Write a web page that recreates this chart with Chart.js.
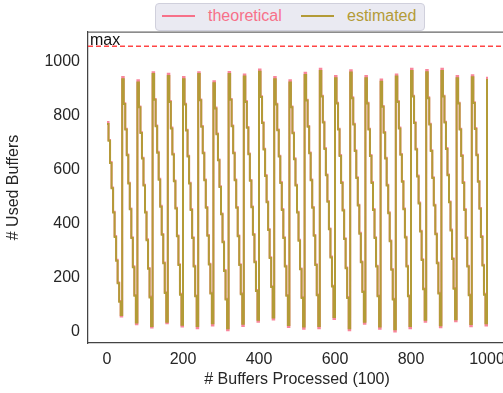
<!DOCTYPE html>
<html>
<head>
<meta charset="utf-8">
<script src="https://cdn.jsdelivr.net/npm/chart.js@4.4.1/dist/chart.umd.min.js"></script>
<style>
  html, body { margin: 0; padding: 0; background: #fff; overflow: hidden; }
  #wrap { position: relative; width: 503px; height: 393px; overflow: hidden; }
  canvas { position: absolute; left: 0; top: 0; }
  #legend {
    position: absolute; left: 155px; top: 3px; width: 268px; height: 26px;
    background: #eaeaf2; border: 1px solid #d0d0dc; border-radius: 4px;
    font-family: "Liberation Sans", Arial, sans-serif; font-size: 16px;
  }
  #legend .ln { position: absolute; top: 11px; height: 2px; width: 33px; }
  #legend .tx { position: absolute; top: 3px; line-height: 18px; }
</style>
</head>
<body>
<div id="wrap">
  <canvas id="chart" width="520" height="393"></canvas>
  <div id="legend">
    <div class="ln" style="left:6px;background:#f77189"></div>
    <div class="tx" style="left:52px;color:#f77189">theoretical</div>
    <div class="ln" style="left:145px;background:#b39b37"></div>
    <div class="tx" style="left:191px;color:#b39b37">estimated</div>
  </div>
</div>
<script>
// one sample every 4 units on x (# buffers processed, in hundreds)
const xStep = 4
const maxBuffers = 1056

const estimated = [
  768, 706, 624, 530, 440, 350, 262, 178, 110, 61,
  934, 842, 748, 652, 548, 452, 346, 238, 132, 33,
  922, 830, 735, 640, 540, 440, 338, 232, 126, 20,
  953, 858, 760, 662, 562, 462, 358, 252, 142, 36,
  946, 850, 752, 655, 556, 455, 352, 246, 136, 25,
  934, 840, 744, 648, 548, 450, 346, 240, 130, 20,
  953, 856, 758, 660, 560, 458, 354, 248, 140, 30,
  919, 826, 730, 634, 535, 434, 330, 224, 118, 12,
  953, 858, 760, 660, 560, 458, 352, 246, 138, 28,
  944, 850, 754, 656, 558, 460, 358, 256, 150, 43,
  962, 868, 772, 674, 576, 478, 376, 272, 164, 51,
  934, 840, 745, 648, 550, 450, 346, 240, 132, 24,
  922, 830, 734, 638, 540, 440, 336, 230, 124, 18,
  950, 855, 758, 660, 560, 458, 354, 246, 134, 20,
  965, 870, 774, 676, 578, 480, 378, 274, 166, 53,
  938, 844, 748, 650, 550, 448, 342, 234, 124, 12,
  959, 864, 766, 668, 568, 466, 362, 256, 146, 36,
  938, 844, 748, 650, 550, 450, 346, 240, 130, 18,
  925, 832, 736, 640, 540, 438, 334, 228, 118, 8,
  944, 850, 752, 654, 554, 452, 348, 240, 130, 20,
  965, 870, 772, 674, 574, 474, 370, 264, 156, 43,
  960, 864, 766, 668, 568, 466, 360, 252, 140, 23,
  965, 870, 774, 676, 578, 478, 374, 268, 158, 45,
  938, 844, 748, 650, 550, 450, 346, 240, 134, 27,
  941, 846, 750, 652, 554, 454, 350, 244, 136, 30,
  935
]

const theoretical = [
  776, 709, 627, 533, 443, 353, 265, 181, 113, 55,
  942, 845, 751, 655, 551, 455, 349, 241, 135, 26,
  930, 833, 738, 643, 543, 443, 341, 235, 129, 14,
  960, 861, 763, 665, 565, 465, 361, 255, 145, 30,
  954, 853, 755, 658, 559, 458, 355, 249, 139, 18,
  942, 843, 747, 651, 551, 453, 349, 243, 133, 12,
  960, 859, 761, 663, 563, 461, 357, 251, 143, 22,
  927, 829, 733, 637, 538, 437, 333, 227, 121, 4,
  961, 861, 763, 663, 563, 461, 355, 249, 141, 20,
  952, 853, 757, 659, 561, 463, 361, 259, 153, 36,
  970, 871, 775, 677, 579, 481, 379, 275, 167, 44,
  942, 843, 748, 651, 553, 453, 349, 243, 135, 16,
  930, 833, 737, 641, 543, 443, 339, 233, 127, 10,
  958, 858, 761, 663, 563, 461, 357, 249, 137, 12,
  973, 873, 777, 679, 581, 483, 381, 277, 169, 46,
  946, 847, 751, 653, 553, 451, 345, 237, 127, 4,
  967, 867, 769, 671, 571, 469, 365, 259, 149, 28,
  946, 847, 751, 653, 553, 453, 349, 243, 133, 10,
  933, 835, 739, 643, 543, 441, 337, 231, 121, 0,
  952, 853, 755, 657, 557, 455, 351, 243, 133, 12,
  973, 873, 775, 677, 577, 477, 373, 267, 159, 36,
  968, 867, 769, 671, 571, 469, 363, 255, 143, 15,
  973, 873, 777, 679, 581, 481, 377, 271, 161, 38,
  946, 847, 751, 653, 553, 453, 349, 243, 137, 19,
  949, 849, 753, 655, 557, 457, 353, 247, 139, 22,
  943
]

const toPoints = (arr) => arr.map((y, i) => ({x: i * xStep, y: y}))

const font = {family: "'Liberation Sans', Arial, sans-serif", size: 16}
const textColor = '#262626'
const axisColor = '#444'
const plainTick = (v) => String(v)

const maxLabel = {
  id: 'maxLabel',
  afterDatasetsDraw(chart) {
    const {ctx, chartArea, scales} = chart
    const y = scales.y.getPixelForValue(maxBuffers)
    ctx.save()
    ctx.fillStyle = '#111'
    ctx.font = "16px 'Liberation Sans', Arial, sans-serif"
    ctx.textBaseline = 'alphabetic'
    ctx.fillText('max', chartArea.left + 2, y - 1)
    // top spine
    ctx.strokeStyle = '#666'
    ctx.lineWidth = 1.25
    ctx.beginPath()
    ctx.moveTo(chartArea.left, chartArea.top)
    ctx.lineTo(chartArea.right, chartArea.top)
    ctx.stroke()
    ctx.restore()
  }
}

const config = {
  type: 'line',
  data: {
    datasets: [{
      label: 'estimated',
      data: toPoints(estimated),
      borderColor: '#b39b37',
      borderWidth: 2,
      stepped: 'before',
      pointRadius: 0,
      order: 0
    }, {
      label: 'theoretical',
      data: toPoints(theoretical),
      borderColor: 'rgba(247, 113, 137, 0.85)',
      borderWidth: 2,
      stepped: 'before',
      pointRadius: 0,
      order: 1
    }, {
      label: 'max',
      data: [{x: -50, y: maxBuffers}, {x: 1050, y: maxBuffers}],
      borderColor: '#ff4545',
      borderWidth: 1.5,
      borderDash: [5, 3],
      pointRadius: 0,
      order: 2
    }]
  },
  options: {
    responsive: false,
    animation: false,
    layout: {padding: {left: 0, top: 32, right: 14, bottom: 0}},
    plugins: {legend: {display: false}, tooltip: {enabled: false}},
    scales: {
      x: {
        type: 'linear',
        min: -50,
        max: 1050,
        grid: {display: false, drawTicks: false},
        border: {display: true, color: axisColor, width: 1.25},
        ticks: {stepSize: 200, includeBounds: false, padding: 7, color: textColor, font: font, maxRotation: 0, callback: plainTick},
        title: {display: true, text: '# Buffers Processed (100)', color: textColor, font: font, padding: {top: 0, bottom: 4}},
        afterFit(scale) { scale.height = 50 }
      },
      y: {
        min: -43,
        max: 1109,
        grid: {display: false, drawTicks: false},
        border: {display: true, color: axisColor, width: 1.25},
        ticks: {stepSize: 200, includeBounds: false, padding: 8, color: textColor, font: font, callback: plainTick},
        title: {display: true, text: '# Used Buffers', color: textColor, font: font, padding: {top: 4, bottom: 0}},
        afterFit(scale) { scale.width = 88 }
      }
    }
  },
  plugins: [maxLabel]
}

let chart = new Chart(document.querySelector('#chart'), config)
</script>
</body>
</html>
